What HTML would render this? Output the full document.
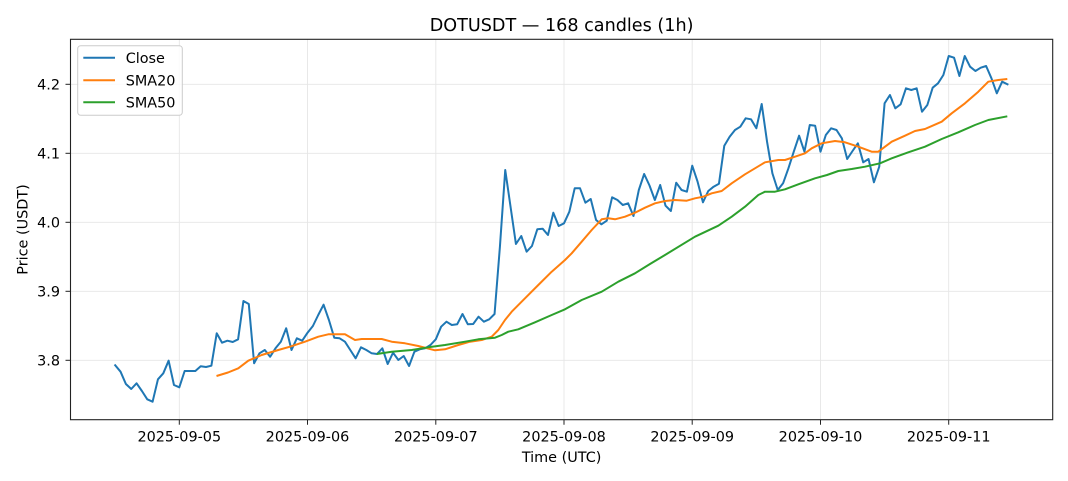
<!DOCTYPE html>
<html>
<head>
<meta charset="utf-8">
<style>
html,body{margin:0;padding:0;background:#fff;}
svg{display:block;}
text{font-family:"DejaVu Sans","Liberation Sans",sans-serif;fill:#000;}
</style>
</head>
<body>
<svg width="1068" height="481" viewBox="0 0 1068 481" xmlns="http://www.w3.org/2000/svg">
<rect x="0" y="0" width="1068" height="481" fill="#fff"/>
<!-- grid -->
<g stroke="#e6e6e6" stroke-width="0.9">
<line x1="179.3" y1="39.3" x2="179.3" y2="419.7"/>
<line x1="307.5" y1="39.3" x2="307.5" y2="419.7"/>
<line x1="435.8" y1="39.3" x2="435.8" y2="419.7"/>
<line x1="564.0" y1="39.3" x2="564.0" y2="419.7"/>
<line x1="692.2" y1="39.3" x2="692.2" y2="419.7"/>
<line x1="820.5" y1="39.3" x2="820.5" y2="419.7"/>
<line x1="948.7" y1="39.3" x2="948.7" y2="419.7"/>
<line x1="70.5" y1="84.3" x2="1052.7" y2="84.3"/>
<line x1="70.5" y1="153.3" x2="1052.7" y2="153.3"/>
<line x1="70.5" y1="222.3" x2="1052.7" y2="222.3"/>
<line x1="70.5" y1="291.3" x2="1052.7" y2="291.3"/>
<line x1="70.5" y1="360.3" x2="1052.7" y2="360.3"/>
</g>
<!-- close -->
<g transform="translate(115.2,0) scale(5.343,1)">
<polyline fill="none" stroke="#1f77b4" stroke-width="2" stroke-linejoin="round" stroke-linecap="square" vector-effect="non-scaling-stroke" points="
0,365.3 1,371.7 2,384 3,389 4,383.3 5,391 6,399.3 7,401.7 8,379.3 9,373.3
10,360.7 11,385 12,387.3 13,371 14,371 15,371 16,366.3 17,367 18,365.7 19,333.3
20,342.7 21,340.7 22,342 23,339.3 24,301 25,304 26,363.3 27,353.3 28,350 29,356.7
30,348.3 31,341.7 32,328.3 33,350 34,338.3 35,340.7 36,332.7 37,326 38,315 39,304.7
40,320 41,337.7 42,338.3 43,341.7 44,350 45,358.3 46,347.3 47,350 48,353.3 49,354
50,348.3 51,364 52,352.7 53,360 54,356 55,366 56,351.7 57,349.3 58,348.3 59,345
60,339.3 61,326.7 62,321.7 63,325 64,324.3 65,314 66,324.3 67,324 68,316.7 69,321.7
70,319.3 71,314 72,247 73,170 74,207 75,244 76,236 77,251.7 78,246 79,229.3
80,228.7 81,235 82,212.7 83,226 84,223.3 85,211.7 86,188.3 87,188.3 88,202.7 89,199
90,220 91,224.3 92,220.7 93,197.3 94,200 95,205 96,203.3 97,216 98,190 99,174
100,185.5 101,200 102,185 103,205.7 104,211 105,182.7 106,190 107,191.7 108,165.7 109,181.7
110,202.3 111,191 112,186.7 113,183.7 114,145.7 115,136.7 116,130 117,126.7 118,118.3 119,119.3
120,128.3 121,104 122,141.7 123,173.3 124,190 125,183.3 126,168.3 127,151.7 128,135.7 129,151.7
130,125 131,125.7 132,151.7 133,135 134,128.3 135,130 136,138.3 137,159 138,151 139,143.3
140,162.3 141,159 142,182.3 143,166.7 144,103.3 145,95 146,108.3 147,104.3 148,88.3 149,90
150,88.3 151,111.7 152,105 153,87.7 154,83.3 155,75 156,56 157,57.7 158,76 159,56
160,66.7 161,71 162,67.7 163,66 164,78.3 165,93.3 166,81.7 167,84.3"/>
</g>
<!-- SMA20 -->
<polyline fill="none" stroke="#ff7f0e" stroke-width="2" stroke-linejoin="round" points="
216.5,376 228,372.5 238.3,368.3 248.3,360.7 261.7,355 278.3,350 290,346.7 305,341.7 318.3,336.7 328.3,334.3
345,334.3 355,340 361.7,339 381.7,339 391.7,341.7 405,343.3 418.3,346 435,350.3 445,349.3 458.3,345
470,341.7 481.7,340 491.7,336.7 498.3,330 505,320 511.7,311.7 525,298.3 538.3,285 551.7,271.7 565,260
571.7,253.3 581.7,241.7 591.7,230 601.7,219.3 608.3,218.3 615,219.3 625,216.7 635,212.7 645,207.7 655,203.3
665,201 675,200 686.7,200.7 695,198.3 703.3,196.7 711.7,193.3 721.7,191 731.7,183.3 745,174.3 755,168.3
765,162.3 778.3,160 785,160 795,156.7 805,153.3 811.7,148.3 821.7,143.3 835,141 845,142.3 858.3,146.7
871.7,151.7 878.3,151.7 885,146.7 891.7,141.7 905,135.7 915,131 925,129 941.7,121.7 951.7,113.3 965,103.3
978.3,91.7 988.3,81.7 998.3,80 1007.3,79"/>
<!-- SMA50 -->
<polyline fill="none" stroke="#2ca02c" stroke-width="2" stroke-linejoin="round" points="
376.8,354 391.7,351.7 411.7,350 428.3,347.3 445,345 465,341.7 478.3,339.3 495,337.7 501.7,335 508.3,331.7
518.3,329.3 535,322.3 551.7,315 565,309.3 581.7,300 601.7,291.7 618.3,281.7 635,273.3 650,264 665,255
695,236.7 718.3,225.7 731.7,216.7 745,206.7 758.3,195 765,191.7 775,191.7 785,189.3 798.3,184.3 815,178.3
827,175 838.3,171 851.7,169 865,166.7 880,163.3 891.7,158.3 908.3,152.3 925,146.7 941.7,139 958.3,132.3
975,125 988.3,120 1007.3,116.3"/>
<!-- spines -->
<rect x="70.5" y="39.3" width="982.2" height="380.4" fill="none" stroke="#222" stroke-width="1.1"/>
<!-- ticks -->
<g stroke="#222" stroke-width="1">
<line x1="179.3" y1="419.7" x2="179.3" y2="424.7"/>
<line x1="307.5" y1="419.7" x2="307.5" y2="424.7"/>
<line x1="435.8" y1="419.7" x2="435.8" y2="424.7"/>
<line x1="564.0" y1="419.7" x2="564.0" y2="424.7"/>
<line x1="692.2" y1="419.7" x2="692.2" y2="424.7"/>
<line x1="820.5" y1="419.7" x2="820.5" y2="424.7"/>
<line x1="948.7" y1="419.7" x2="948.7" y2="424.7"/>
<line x1="65.5" y1="84.3" x2="70.5" y2="84.3"/>
<line x1="65.5" y1="153.3" x2="70.5" y2="153.3"/>
<line x1="65.5" y1="222.3" x2="70.5" y2="222.3"/>
<line x1="65.5" y1="291.3" x2="70.5" y2="291.3"/>
<line x1="65.5" y1="360.3" x2="70.5" y2="360.3"/>
</g>
<g font-size="14.4" text-anchor="middle">
<text x="179.3" y="441.5">2025-09-05</text>
<text x="307.5" y="441.5">2025-09-06</text>
<text x="435.8" y="441.5">2025-09-07</text>
<text x="564.0" y="441.5">2025-09-08</text>
<text x="692.2" y="441.5">2025-09-09</text>
<text x="820.5" y="441.5">2025-09-10</text>
<text x="948.7" y="441.5">2025-09-11</text>
</g>
<g font-size="14.4" text-anchor="end">
<text x="60" y="89.5">4.2</text>
<text x="60" y="158.5">4.1</text>
<text x="60" y="227.5">4.0</text>
<text x="60" y="296.5">3.9</text>
<text x="60" y="365.5">3.8</text>
</g>
<text x="561.6" y="462" font-size="14.4" text-anchor="middle">Time (UTC)</text>
<text transform="translate(27.5,229.5) rotate(-90)" font-size="14.4" text-anchor="middle">Price (USDT)</text>
<text x="561.6" y="31" font-size="17.6" text-anchor="middle">DOTUSDT — 168 candles (1h)</text>
<!-- legend -->
<rect x="77.7" y="45.7" width="104.6" height="69.6" rx="3" ry="3" fill="#fff" fill-opacity="0.8" stroke="#cccccc" stroke-width="1"/>
<line x1="83.3" y1="57.7" x2="115" y2="57.7" stroke="#1f77b4" stroke-width="2"/>
<line x1="83.3" y1="80.3" x2="115" y2="80.3" stroke="#ff7f0e" stroke-width="2"/>
<line x1="83.3" y1="102.3" x2="115" y2="102.3" stroke="#2ca02c" stroke-width="2"/>
<g font-size="14.4">
<text x="125.7" y="63">Close</text>
<text x="125.7" y="85.4">SMA20</text>
<text x="125.7" y="107.5">SMA50</text>
</g>
</svg>
</body>
</html>
